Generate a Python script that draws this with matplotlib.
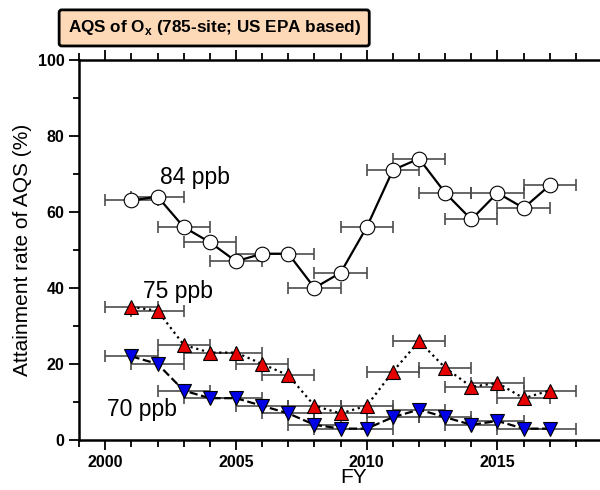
import matplotlib
matplotlib.use('Agg')
import matplotlib.pyplot as plt
from matplotlib.ticker import MultipleLocator, FixedLocator

plt.rcParams['font.family'] = ['Liberation Sans', 'DejaVu Sans']

# ── Data ──────────────────────────────────────────────────
years = [2001, 2002, 2003, 2004, 2005, 2006, 2007, 2008, 2009,
         2010, 2011, 2012, 2013, 2014, 2015, 2016, 2017]
rate_84 = [63, 64, 56, 52, 47, 49, 49, 40, 44, 56, 71, 74, 65, 58, 65, 61, 67]
rate_75 = [35, 34, 25, 23, 23, 20, 17, 9, 7, 9, 18, 26, 19, 14, 15, 11, 13]
rate_70 = [22, 20, 13, 11, 11, 9, 7, 4, 3, 3, 6, 8, 6, 4, 5, 3, 3]
year_ticks = [2000, 2005, 2010, 2015]
fy_span = 1.0  # half-width of the fiscal-year window

fig = plt.figure(figsize=(6.0, 4.9), dpi=100)
ax = fig.add_axes([0.132, 0.102, 0.915, 0.776])

series = [
    (rate_84, 'o', 'white', '-', '84 ppb'),
    (rate_75, '^', '#e60000', ':', '75 ppb'),
    (rate_70, 'v', '#0000e6', '--', '70 ppb'),
]
for vals, mk, fc, ls, lab in series:
    ax.errorbar(years, vals, xerr=fy_span, fmt='none', ecolor='0.3',
                elinewidth=1.2, capsize=4, capthick=1.2, zorder=2)
    ax.plot(years, vals, color='black', ls=ls, lw=1.6, marker=mk,
            markersize=10.5, markerfacecolor=fc, markeredgecolor='black',
            markeredgewidth=0.8, zorder=3)

ax.text(2002.1, 69, '84 ppb', fontsize=16.5, va='center')
ax.text(2001.45, 39, '75 ppb', fontsize=16.5, va='center')
ax.text(2000.05, 8, '70 ppb', fontsize=16.5, va='center')

ax.set_xlim(1999, 2020)
ax.set_ylim(0, 100)
ax.xaxis.set_major_locator(FixedLocator(year_ticks))
ax.xaxis.set_minor_locator(MultipleLocator(1))
ax.yaxis.set_major_locator(MultipleLocator(20))
ax.yaxis.set_minor_locator(MultipleLocator(10))

ax.spines['right'].set_visible(False)
for s in ['left', 'bottom', 'top']:
    ax.spines[s].set_linewidth(1.8)

ax.tick_params(axis='both', which='both', direction='out', width=1.3, labelsize=11.5)
ax.tick_params(axis='x', which='major', length=7, top=True)
ax.tick_params(axis='x', which='minor', length=5, top=True)
ax.tick_params(axis='y', which='major', length=7)
ax.tick_params(axis='y', which='minor', length=4)
for lbl in ax.get_xticklabels() + ax.get_yticklabels():
    lbl.set_fontweight('bold')

ax.set_xlabel('FY', fontsize=15, labelpad=-1)
ax.set_ylabel('Attainment rate of AQS (%)', fontsize=15, labelpad=4)

fig.text(0.357, 0.943, r'AQS of O$_\mathregular{x}$ (785-site; US EPA based)',
         fontsize=12.3, fontweight='bold', ha='center', va='center',
         bbox=dict(boxstyle='round,pad=0.5,rounding_size=0.15',
                   facecolor='#fdd9b8', edgecolor='black', linewidth=2))

plt.savefig('out.png', dpi=100)
plt.close()
